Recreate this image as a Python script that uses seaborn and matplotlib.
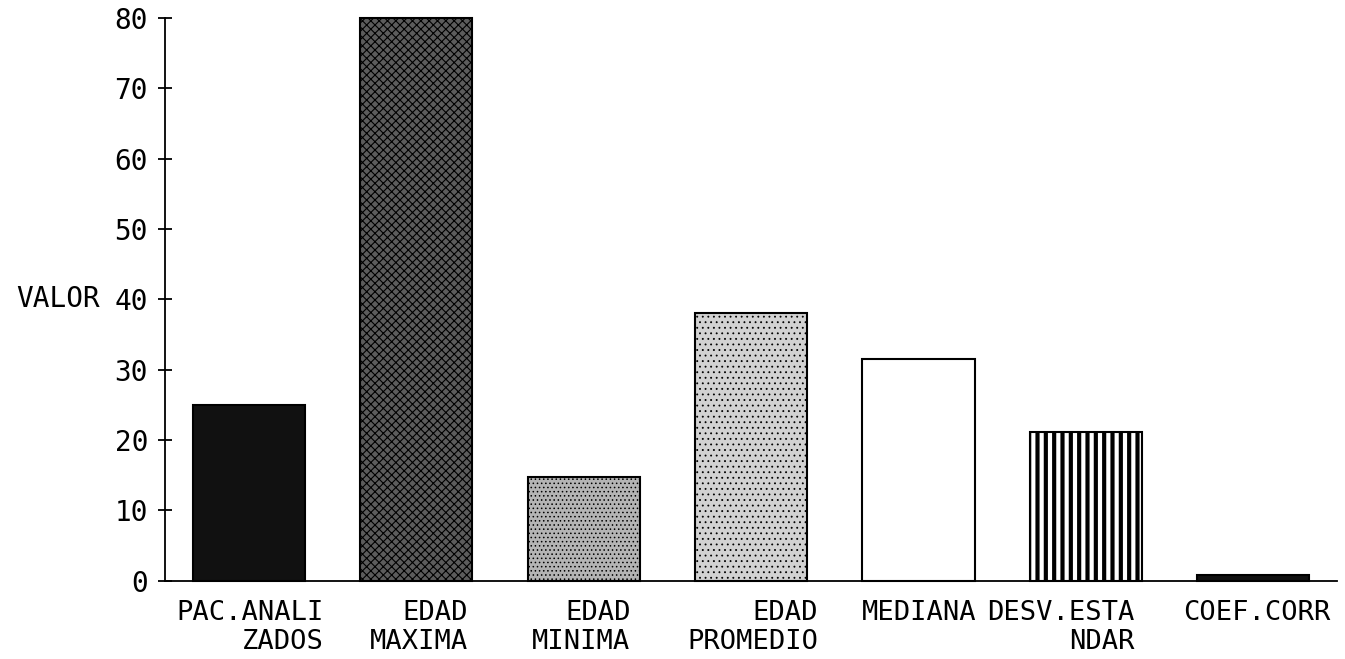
import matplotlib
matplotlib.use("Agg")
import matplotlib.pyplot as plt
import seaborn as sns
import pandas as pd

categories = ["PAC.ANALI\nZADOS", "EDAD\nMAXIMA", "EDAD\nMINIMA", "EDAD\nPROMEDIO",
              "MEDIANA", "DESV.ESTA\nNDAR", "COEF.CORR"]
values = [25, 80, 14.7, 38, 31.5, 21.1, 0.8]
yticks = [0, 10, 20, 30, 40, 50, 60, 70, 80]

df = pd.DataFrame({"cat": categories, "valor": values})

faces = ["#111111", "#5c5c5c", "#b4b4b4", "#d2d2d2", "#ffffff", "#ffffff", "#111111"]
hatches = [None, "xxxx", "....", "...", None, "||", None]
hatch_lw = [1, 0.8, 0.6, 0.6, 1, 3.0, 1]
# right edge of each label, in category widths from the category centre
label_shift = [0.445, 0.31, 0.28, 0.40, 0.345, 0.29, 0.46]

sns.set_style("white")
plt.rcParams["font.family"] = ["DejaVu Sans Mono"]
for k in ["text.color", "axes.labelcolor", "xtick.color", "ytick.color"]:
    plt.rcParams[k] = "black"

fig = plt.figure(figsize=(13.45, 6.59), dpi=100)
ax = fig.add_axes([0.1227, 0.1188, 0.8714, 0.8539])

sns.barplot(data=df, x="cat", y="valor", hue="cat", palette=faces, legend=False,
            width=0.67, edgecolor="black", linewidth=1.5, saturation=1, ax=ax)

for p, h, lw in zip(ax.patches, hatches, hatch_lw):
    p.set_clip_on(False)
    if h:
        p.set_hatch(h)
        if hasattr(p, "set_hatch_linewidth"):
            p.set_hatch_linewidth(lw)

ax.set_xlim(-0.5, 6.5)
ax.set_ylim(0, 80)
ax.set_yticks(yticks)
ax.set_yticklabels([str(v) for v in yticks], fontsize=20)
# label ticks sit at each label's right edge (ticks themselves hidden)
ax.set_xticks([i + s for i, s in enumerate(label_shift)])
ax.set_xticklabels(categories, fontsize=19.5, linespacing=1.15, ha="right", ma="right")
ax.set_xticks([i - 0.5 for i in range(len(categories) + 1)], minor=True)

ax.tick_params(axis="x", which="major", length=0, pad=14)
ax.tick_params(axis="x", which="minor", direction="inout", length=9.4, width=1.3)
ax.tick_params(axis="y", direction="inout", length=9.4, width=1.3, pad=7.5, left=True)

ax.set_xlabel("")
ax.set_ylabel("VALOR", fontsize=20, rotation=0, ha="right", va="center")
ax.yaxis.set_label_coords(-0.0555, 0.5)

sns.despine(ax=ax)
for s in ["left", "bottom"]:
    ax.spines[s].set_color("black")
    ax.spines[s].set_linewidth(1.3)

fig.savefig("out.png", dpi=100)
